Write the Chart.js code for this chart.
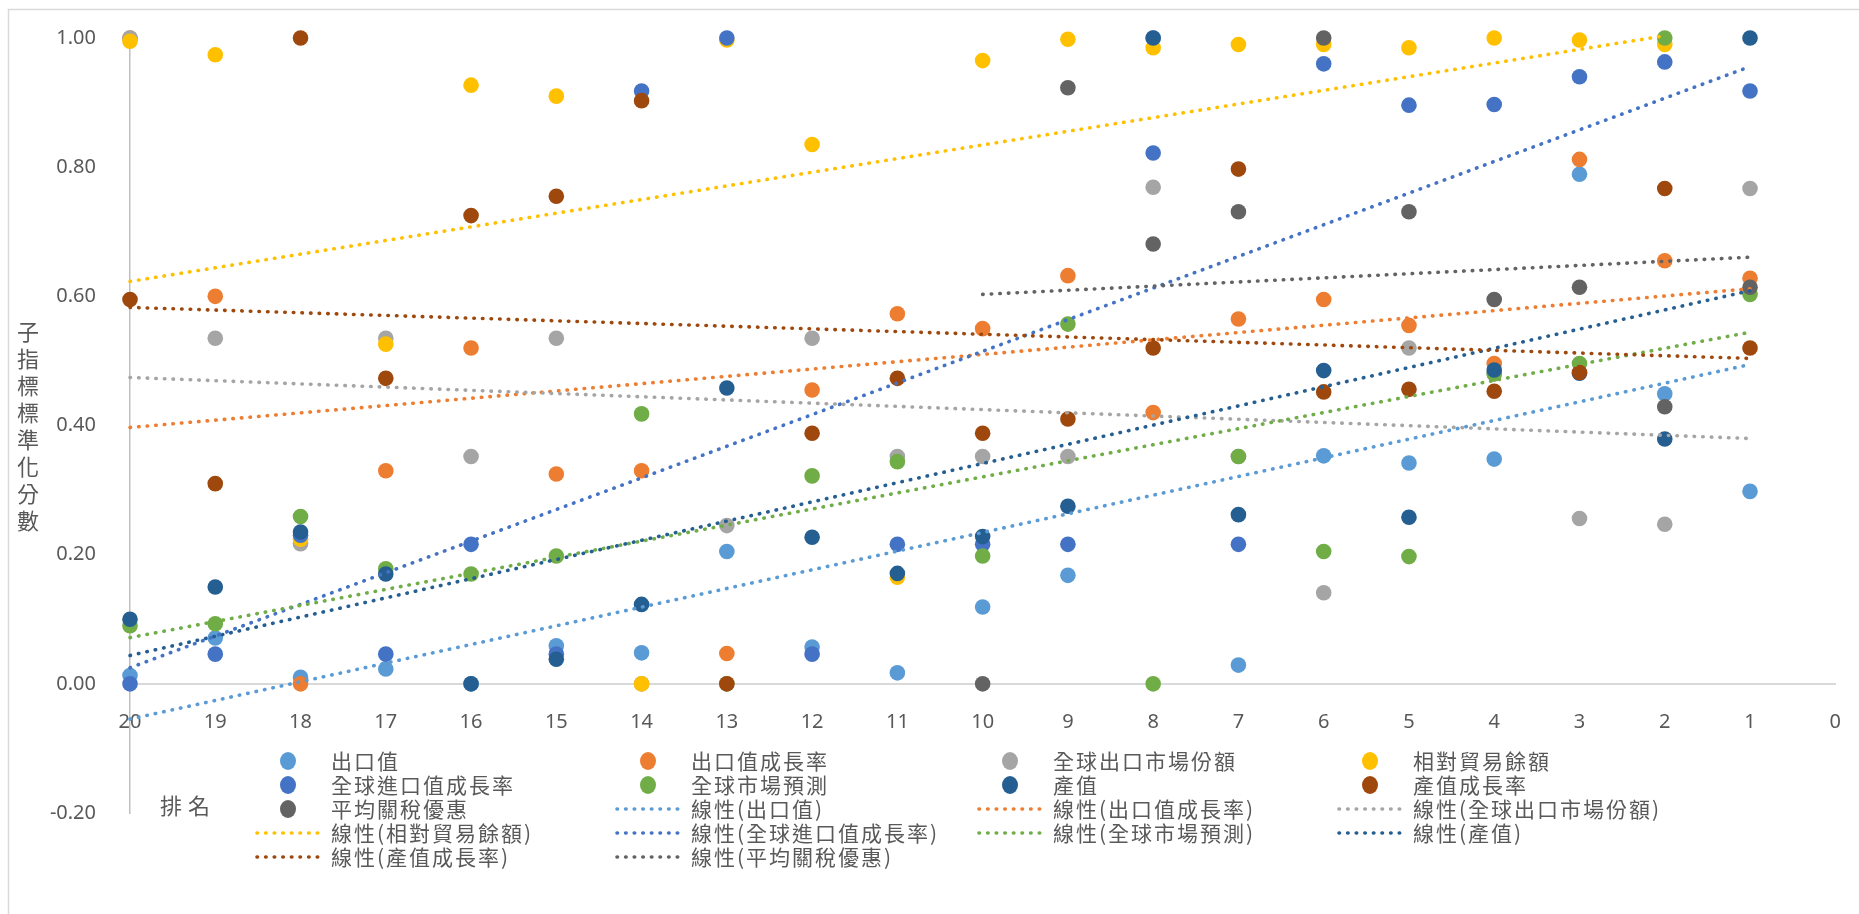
<!DOCTYPE html>
<html>
<head>
<meta charset="utf-8">
<script src="https://cdn.jsdelivr.net/npm/chart.js@4.4.1/dist/chart.umd.min.js"></script>
<style>
  html, body { margin: 0; padding: 0; background: #fff; }
  #wrap { position: relative; width: 1859px; height: 914px; }
</style>
</head>
<body>
<div id="wrap"><canvas id="chart" width="1859" height="914"></canvas></div>
<script>
// 排名 (x), 20 -> 1
const ranks = [20, 19, 18, 17, 16, 15, 14, 13, 12, 11, 10, 9, 8, 7, 6, 5, 4, 3, 2, 1];

// 子指標標準化分數, one value per rank
const exportValue    = [0.013, 0.071, 0.010, 0.023, 0.000, 0.059, 0.048, 0.205, 0.057, 0.017, 0.119, 0.168, 1.000, 0.029, 0.353, 0.342, 0.348, 0.789, 0.449, 0.298];
const exportGrowth   = [1.000, 0.600, 0.000, 0.330, 0.520, 0.325, 0.330, 0.047, 0.455, 0.573, 0.550, 0.632, 0.420, 0.565, 0.595, 0.555, 0.496, 0.812, 0.655, 0.628];
const exportShare    = [1.000, 0.535, 0.217, 0.535, 0.352, 0.535, 0.000, 0.245, 0.535, 0.352, 0.352, 0.352, 0.769, 0.352, 0.141, 0.520, 0.480, 0.256, 0.247, 0.767];
const tradeBalance   = [0.995, 0.974, 0.224, 0.526, 0.927, 0.910, 0.000, 0.997, 0.835, 0.165, 0.965, 0.998, 0.985, 0.990, 0.990, 0.985, 1.000, 0.997, 0.990, null];
const importGrowth   = [0.000, 0.046, 0.230, 0.046, 0.216, 0.046, 0.918, 1.000, 0.046, 0.216, 0.216, 0.216, 0.822, 0.216, 0.960, 0.896, 0.897, 0.940, 0.963, 0.918];
const marketForecast = [0.090, 0.093, 0.259, 0.178, 0.170, 0.198, 0.418, 0.000, 0.322, 0.344, 0.198, 0.557, 0.000, 0.352, 0.205, 0.197, 0.480, 0.496, 1.000, 0.603];
const outputValue    = [0.100, 0.150, 0.235, 0.170, 0.000, 0.038, 0.123, 0.458, 0.227, 0.171, 0.228, 0.275, 1.000, 0.262, 0.485, 0.258, 0.486, 0.481, 0.379, 1.000];
const outputGrowth   = [0.595, 0.310, 1.000, 0.473, 0.725, 0.755, 0.903, 0.000, 0.388, 0.473, 0.388, 0.410, 0.520, 0.797, 0.452, 0.456, 0.453, 0.482, 0.767, 0.520];
const tariffPref     = [null, null, null, null, null, null, null, null, null, null, 0.000, 0.923, 0.681, 0.731, 1.000, 0.731, 0.595, 0.614, 0.429, 0.614];

const seriesNames = ['出口值', '出口值成長率', '全球出口市場份額', '相對貿易餘額', '全球進口值成長率', '全球市場預測', '產值', '產值成長率', '平均關稅優惠'];
const seriesValues = [exportValue, exportGrowth, exportShare, tradeBalance, importGrowth, marketForecast, outputValue, outputGrowth, tariffPref];
const seriesColors = ['#5B9BD5', '#ED7D31', '#A5A5A5', '#FFC000', '#4472C4', '#70AD47', '#255E91', '#9E480E', '#636363'];

const yTicks = [-0.2, 0, 0.2, 0.4, 0.6, 0.8, 1.0];
const xTitle = '排名';
const yTitle = '子指標標準化分數';

const textColor = '#595959';
const DOT = [0.5, 8.1];

function toPoints(vals) {
    const pts = [];
    vals.forEach((v, i) => { if (v !== null) pts.push({ x: ranks[i], y: v }); });
    return pts;
}

// least squares fit, like Excel's linear trendline
function trend(pts) {
    const n = pts.length;
    const mx = pts.reduce((s, p) => s + p.x, 0) / n;
    const my = pts.reduce((s, p) => s + p.y, 0) / n;
    let sxy = 0, sxx = 0;
    pts.forEach(p => { sxy += (p.x - mx) * (p.y - my); sxx += (p.x - mx) * (p.x - mx); });
    const b = sxy / sxx, a = my - b * mx;
    const xs = pts.map(p => p.x);
    const x0 = Math.min(...xs), x1 = Math.max(...xs);
    return [{ x: x1, y: a + b * x1 }, { x: x0, y: a + b * x0 }];
}

const datasets = [];
seriesNames.forEach((name, i) => {
    datasets.push({
        label: name,
        data: toPoints(seriesValues[i]),
        backgroundColor: seriesColors[i],
        borderWidth: 0,
        pointRadius: 7.8,
        pointHoverRadius: 7.8,
        clip: false,
        order: 100 - i,
        kind: 'marker',
    });
});
seriesNames.forEach((name, i) => {
    datasets.push({
        label: '線性(' + name + ')',
        data: trend(toPoints(seriesValues[i])),
        showLine: true,
        borderColor: seriesColors[i],
        backgroundColor: seriesColors[i],
        borderWidth: 3.6,
        borderDash: DOT,
        borderCapStyle: 'round',
        pointRadius: 0,
        clip: false,
        order: 50 - i,
        kind: 'line',
    });
});

// outer frame, axis titles and a 4-column legend like the Excel original
const decorations = {
    id: 'decorations',
    beforeDraw(chart) {
        const ctx = chart.ctx;
        ctx.save();
        ctx.fillStyle = '#fff';
        ctx.fillRect(0, 0, chart.width, chart.height);
        ctx.strokeStyle = '#D9D9D9';
        ctx.lineWidth = 1.5;
        ctx.strokeRect(8.5, 9.5, 2000, 2000);
        ctx.restore();
    },
    afterDraw(chart) {
        const ctx = chart.ctx;
        ctx.save();
        ctx.fillStyle = textColor;
        ctx.textBaseline = 'middle';

        // y title, stacked characters
        ctx.font = '22px "Noto Sans CJK TC"';
        ctx.textAlign = 'center';
        [...yTitle].forEach((ch, k) => ctx.fillText(ch, 28, 332 + k * 27));

        // x title
        ctx.textAlign = 'left';
        ctx.letterSpacing = '6px';
        ctx.fillText(xTitle, 160, 806);

        // legend
        const cols = [288, 648, 1010, 1370];
        const rowY = 761, rowH = 24;
        ctx.font = '21px "Noto Sans CJK TC"';
        ctx.letterSpacing = '2px';
        chart.data.datasets.forEach((ds, k) => {
            const cx = cols[k % 4];
            const cy = rowY + Math.floor(k / 4) * rowH;
            if (ds.kind === 'marker') {
                ctx.fillStyle = ds.backgroundColor;
                ctx.beginPath();
                ctx.ellipse(cx, cy, 8, 9, 0, 0, Math.PI * 2);
                ctx.fill();
            } else {
                ctx.strokeStyle = ds.borderColor;
                ctx.lineWidth = 3.6;
                ctx.lineCap = 'round';
                ctx.setLineDash(DOT);
                ctx.beginPath();
                ctx.moveTo(cx - 31, cy);
                ctx.lineTo(cx + 31, cy);
                ctx.stroke();
                ctx.setLineDash([]);
            }
            ctx.fillStyle = textColor;
            ctx.fillText(ds.label, cx + 43, cy);
        });
        ctx.restore();
    }
};

new Chart(document.getElementById('chart'), {
    type: 'scatter',
    data: { datasets },
    options: {
        responsive: false,
        animation: false,
        layout: { padding: { left: 0, top: 37, right: 14, bottom: 101 } },
        plugins: {
            legend: { display: false },
            tooltip: { enabled: false },
        },
        scales: {
            x: {
                type: 'linear',
                position: { y: 0 },
                reverse: true,
                min: 0,
                max: 20,
                grid: { display: false },
                border: { color: '#D9D9D9', width: 2 },
                ticks: {
                    stepSize: 1,
                    color: textColor,
                    font: { family: '"Noto Sans", sans-serif', size: 20 },
                    padding: 18,
                    maxRotation: 0,
                },
            },
            y: {
                type: 'linear',
                position: 'left',
                min: yTicks[0],
                max: yTicks[yTicks.length - 1],
                grid: { display: false },
                border: { color: '#BFBFBF', width: 1.5 },
                afterFit: s => { s.width = 130; },
                afterBuildTicks: s => { s.ticks = yTicks.map(v => ({ value: v })); },
                ticks: {
                    color: textColor,
                    font: { family: '"Noto Sans", sans-serif', size: 20 },
                    padding: 26,
                    callback: v => (Math.abs(v) < 1e-9 ? 0 : v).toFixed(2),
                },
            },
        },
    },
    plugins: [decorations],
});
</script>
</body>
</html>
